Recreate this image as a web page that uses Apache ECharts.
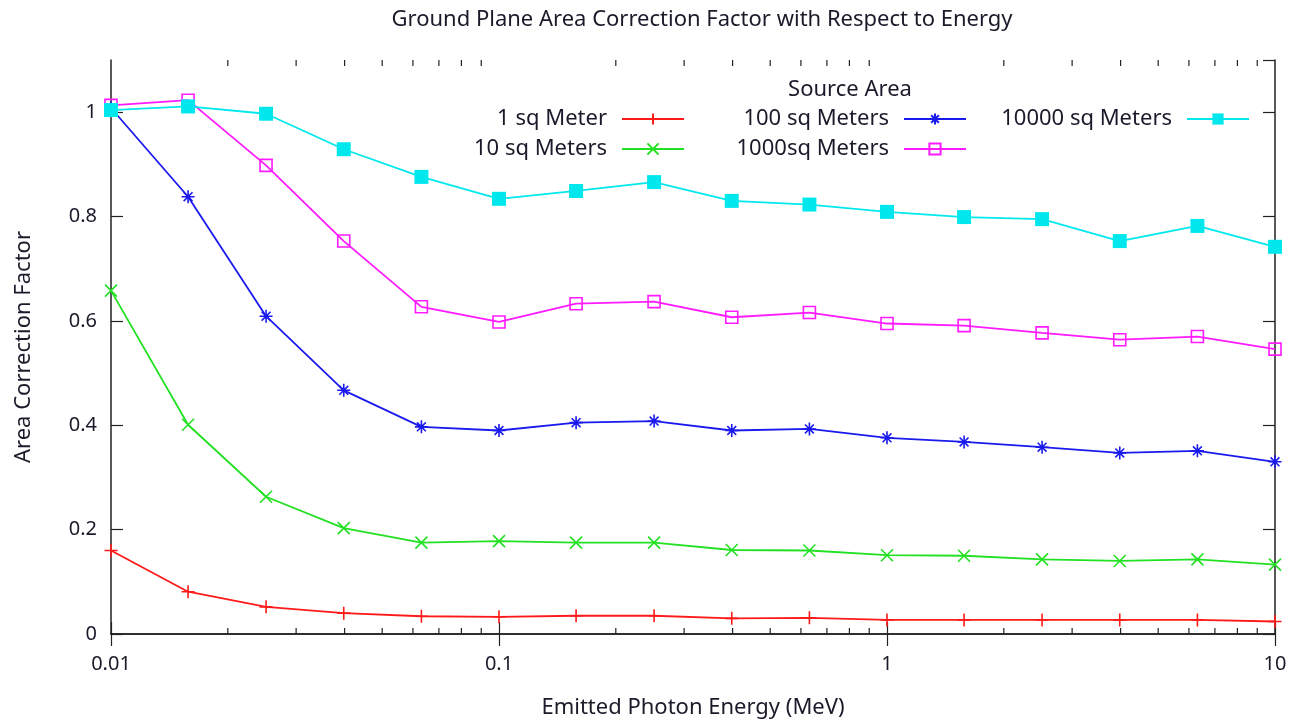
<!DOCTYPE html>
<html>
<head>
<meta charset="utf-8">
<script src="https://cdn.jsdelivr.net/npm/echarts@6/dist/echarts.min.js"></script>
<style>html,body{margin:0;padding:0;background:#fff}#c{width:1303px;height:724px}</style>
</head>
<body>
<div id="c"></div>
<script>
// Photon energies (MeV)
const energies = [0.01, 0.0158, 0.0251, 0.0398, 0.0631, 0.1, 0.158, 0.251, 0.398, 0.631, 1, 1.58, 2.51, 3.98, 6.31, 10];
const seriesNames = ['1 sq Meter', '10 sq Meters', '100 sq Meters', '1000sq Meters', '10000 sq Meters'];
const area1 = [0.160, 0.081, 0.052, 0.040, 0.034, 0.033, 0.035, 0.035, 0.030, 0.031, 0.027, 0.027, 0.027, 0.027, 0.027, 0.024];
const area10 = [0.658, 0.401, 0.263, 0.203, 0.175, 0.178, 0.175, 0.175, 0.161, 0.160, 0.151, 0.150, 0.143, 0.140, 0.143, 0.133];
const area100 = [1.008, 0.838, 0.609, 0.467, 0.397, 0.390, 0.405, 0.408, 0.390, 0.393, 0.376, 0.368, 0.358, 0.347, 0.351, 0.330];
const area1000 = [1.013, 1.023, 0.898, 0.753, 0.627, 0.598, 0.633, 0.637, 0.607, 0.616, 0.595, 0.591, 0.577, 0.564, 0.570, 0.546];
const area10000 = [1.004, 1.011, 0.997, 0.929, 0.876, 0.834, 0.849, 0.866, 0.830, 0.823, 0.809, 0.799, 0.795, 0.753, 0.782, 0.742];
const minorTickValues = [0.02,0.03,0.04,0.05,0.06,0.07,0.08,0.09,0.2,0.3,0.4,0.5,0.6,0.7,0.8,0.9,2,3,4,5,6,7,8,9];
const yTicks = [0, 0.2, 0.4, 0.6, 0.8, 1];

const FONT = 'Noto Sans';
const TXT = '#1a1a2a';
const colors = ['#ff1a1a', '#22e022', '#1a1aee', '#ff1aff', '#00e8ee'];
const symbols = [
  'path://M5,0L5,10M0,5L10,5',
  'path://M0,0L10,10M10,0L0,10',
  'path://M5,0L5,10M0,5L10,5M1.6,1.6L8.4,8.4M8.4,1.6L1.6,8.4',
  'rect',
  'rect'
];
const values = [area1, area10, area100, area1000, area10000];
const symSizes = [13, 12, 13, 12, 14];

function mk(i) {
  const filled = i === 4;
  const hollow = i === 3;
  return {
    name: seriesNames[i],
    type: 'line',
    data: energies.map((e, k) => [e, values[i][k]]),
    symbol: symbols[i],
    symbolSize: symSizes[i],
    showAllSymbol: true,
    lineStyle: { color: colors[i], width: 1.8 },
    itemStyle: {
      color: hollow ? 'rgba(0,0,0,0)' : colors[i],
      borderColor: colors[i],
      borderWidth: filled ? 0 : 1.6
    },
    emphasis: { disabled: true },
    z: 3 + i
  };
}

const series = [0,1,2,3,4].map(mk);
series.push({
  type: 'custom',
  silent: true,
  xAxisIndex: 0, yAxisIndex: 0,
  data: minorTickValues.map(v => [v, 0]),
  clip: false,
  renderItem: function (params, api) {
    const v = api.value(0);
    const b = api.coord([v, 0]);
    const t = api.coord([v, 1.1]);
    const st = { stroke: '#222', lineWidth: 1.2 };
    return {
      type: 'group',
      children: [
        { type: 'line', shape: { x1: b[0], y1: b[1], x2: b[0], y2: b[1] - 6 }, style: st },
        { type: 'line', shape: { x1: t[0], y1: t[1], x2: t[0], y2: t[1] + 6 }, style: st }
      ]
    };
  },
  z: 2
});

const legendBase = {
  orient: 'vertical',
  align: 'right',
  top: 103,
  itemWidth: 62,
  itemHeight: 14,
  itemGap: 8,
  textStyle: { fontFamily: FONT, fontSize: 22, color: TXT, padding: [0, 10, 0, 0] },
  selectedMode: false
};

const axisLine = { show: true, lineStyle: { color: '#222', width: 1.5 } };

const option = {
  animation: false,
  backgroundColor: '#fff',
  title: [
    {
      text: 'Ground Plane Area Correction Factor with Respect to Energy',
      left: 697, top: 4, textAlign: 'center',
      textStyle: { fontFamily: FONT, fontSize: 22, fontWeight: 'normal', color: TXT }
    },
    {
      text: 'Source Area',
      left: 845, top: 74, textAlign: 'center',
      textStyle: { fontFamily: FONT, fontSize: 22, fontWeight: 'normal', color: TXT }
    }
  ],
  legend: [
    Object.assign({}, legendBase, { right: 613, data: [seriesNames[0], seriesNames[1]] }),
    Object.assign({}, legendBase, { right: 331, data: [seriesNames[2], seriesNames[3]] }),
    Object.assign({}, legendBase, { right: 48, data: [seriesNames[4]] })
  ],
  grid: { left: 111, right: 28, top: 60, bottom: 89 },
  xAxis: [
    {
      type: 'log', logBase: 10, min: 0.01, max: 10,
      name: 'Emitted Photon Energy (MeV)', nameLocation: 'middle', nameGap: 63,
      nameTextStyle: { fontFamily: FONT, fontSize: 22, color: TXT },
      axisLine: axisLine,
      axisTick: { show: true, inside: true, length: 12, lineStyle: { color: '#222', width: 1.2 } },
      axisLabel: { fontFamily: FONT, fontSize: 20, color: TXT, margin: 20 },
      splitLine: { show: false },
      minorTick: { show: false }
    },
    {
      type: 'log', logBase: 10, min: 0.01, max: 10, position: 'top',
      axisLine: axisLine,
      axisTick: { show: true, inside: true, length: 12, lineStyle: { color: '#222', width: 1.2 } },
      axisLabel: { show: false },
      splitLine: { show: false }
    }
  ],
  yAxis: [
    {
      type: 'value', min: 0, max: 1.1, interval: 0.2,
      name: 'Area Correction Factor', nameLocation: 'middle', nameGap: 76,
      nameTextStyle: { fontFamily: FONT, fontSize: 22, color: TXT },
      axisLine: axisLine,
      axisTick: { show: true, inside: true, length: 12, lineStyle: { color: '#222', width: 1.2 } },
      axisLabel: { fontFamily: FONT, fontSize: 20, color: TXT, margin: 14, showMaxLabel: false,
        formatter: function (v) { return yTicks.indexOf(Math.round(v * 10) / 10) >= 0 ? String(Math.round(v * 10) / 10) : ''; } },
      splitLine: { show: false }
    },
    {
      type: 'value', min: 0, max: 1.1, interval: 0.2, position: 'right',
      axisLine: axisLine,
      axisTick: { show: true, inside: true, length: 12, lineStyle: { color: '#222', width: 1.2 } },
      axisLabel: { show: false },
      splitLine: { show: false }
    }
  ],
  series: series
};

const chart = echarts.init(document.getElementById('c'), null, { renderer: 'canvas' });
chart.setOption(option);
</script>
</body>
</html>
